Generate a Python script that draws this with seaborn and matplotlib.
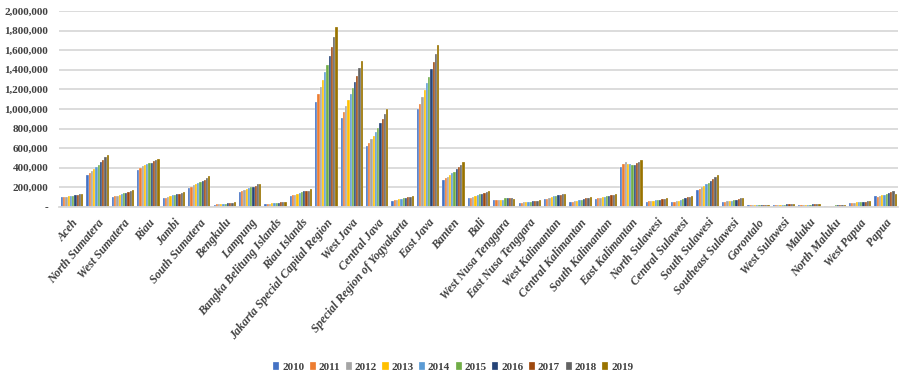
import pandas as pd
import seaborn as sns
import matplotlib.pyplot as plt
from matplotlib.ticker import FuncFormatter

# provinces and yearly values
provinces = ["Aceh", "North Sumatera", "West Sumatera", "Riau", "Jambi", "South Sumatera",
             "Bengkulu", "Lampung", "Bangka Belitung Islands", "Riau Islands",
             "Jakarta Special Capital Region", "West Java", "Central Java",
             "Special Region of Yogyakarta", "East Java", "Banten", "Bali",
             "West Nusa Tenggara", "East Nusa Tenggara", "West Kalimantan",
             "Central Kalimantan", "South Kalimantan", "East Kalimantan", "North Sulawesi",
             "Central Sulawesi", "South Sulawesi", "Southeast Sulawesi", "Gorontalo",
             "West Sulawesi", "Maluku", "North Maluku", "West Papua", "Papua"]
years = ["2010", "2011", "2012", "2013", "2014", "2015", "2016", "2017", "2018", "2019"]

# values in thousands
aceh = [98, 101, 105, 108, 110, 111, 118, 121, 128, 135]
north_sumatera = [324, 347, 368, 388, 408, 432, 459, 482, 506, 533]
west_sumatera = [101, 108, 115, 125, 132, 138, 145, 152, 162, 169]
riau = [381, 401, 418, 432, 438, 445, 452, 465, 476, 489]
jambi = [88, 94, 101, 111, 118, 125, 128, 135, 142, 148]
south_sumatera = [192, 202, 219, 236, 246, 256, 263, 273, 293, 314]
bengkulu = [24, 27, 28, 30, 32, 35, 38, 40, 44, 47]
lampung = [148, 162, 169, 179, 192, 199, 202, 216, 229, 239]
bangka = [27, 32, 34, 36, 40, 44, 45, 47, 52, 55]
riau_islands = [111, 118, 125, 132, 145, 152, 159, 160, 162, 179]
jakarta = [1073, 1148, 1226, 1297, 1375, 1453, 1545, 1637, 1739, 1837]
west_java = [907, 964, 1032, 1093, 1148, 1209, 1277, 1341, 1419, 1494]
central_java = [625, 655, 693, 727, 764, 808, 852, 893, 947, 995]
yogyakarta = [65, 71, 75, 80, 85, 90, 95, 99, 102, 109]
east_java = [995, 1053, 1124, 1195, 1260, 1331, 1406, 1484, 1562, 1650]
banten = [272, 292, 306, 326, 346, 360, 387, 408, 431, 455]
bali = [88, 95, 102, 110, 119, 128, 136, 146, 156, 163]
west_nusa = [68, 68, 68, 70, 74, 88, 88, 88, 88, 86]
east_nusa = [42, 45, 48, 50, 52, 55, 58, 61, 64, 68]
west_kalimantan = [78, 85, 95, 102, 109, 112, 122, 126, 129, 132]
central_kalimantan = [51, 55, 60, 65, 70, 75, 80, 88, 94, 99]
south_kalimantan = [80, 87, 92, 98, 105, 112, 116, 122, 126, 130]
east_kalimantan = [411, 438, 459, 435, 438, 432, 432, 445, 462, 482]
north_sulawesi = [54, 57, 60, 64, 67, 70, 74, 78, 82, 88]
central_sulawesi = [54, 55, 61, 64, 71, 84, 91, 98, 105, 111]
south_sulawesi = [169, 182, 199, 216, 233, 246, 266, 283, 307, 327]
southeast_sulawesi = [47, 50, 57, 60, 64, 71, 74, 81, 88, 89]
gorontalo = [16, 17, 17, 18, 18, 20, 22, 23, 23, 23]
west_sulawesi = [15, 16, 17, 19, 21, 24, 26, 27, 29, 30]
maluku = [18, 18, 19, 20, 22, 24, 25, 25, 26, 28]
north_maluku = [10, 11, 12, 13, 14, 15, 17, 19, 20, 22]
west_papua = [40, 42, 44, 46, 48, 50, 52, 54, 56, 58]
papua = [111, 105, 115, 118, 121, 128, 142, 148, 159, 128]

series = [aceh, north_sumatera, west_sumatera, riau, jambi, south_sumatera, bengkulu,
          lampung, bangka, riau_islands, jakarta, west_java, central_java, yogyakarta,
          east_java, banten, bali, west_nusa, east_nusa, west_kalimantan,
          central_kalimantan, south_kalimantan, east_kalimantan, north_sulawesi,
          central_sulawesi, south_sulawesi, southeast_sulawesi, gorontalo, west_sulawesi,
          maluku, north_maluku, west_papua, papua]

colors = ["#4472C4", "#ED7D31", "#A5A5A5", "#FFC000", "#5B9BD5",
          "#70AD47", "#264478", "#9E480E", "#636363", "#997300"]


def main():
    rows = []
    for prov, vals in zip(provinces, series):
        for yr, v in zip(years, vals):
            rows.append({"province": prov, "year": yr, "value": v * 1000})
    df = pd.DataFrame(rows)

    plt.rcParams['font.family'] = ['Liberation Serif', 'DejaVu Serif']
    fig = plt.figure(figsize=(9.01, 3.79), dpi=100)
    ax = fig.add_axes([0.066, 0.454, 0.931, 0.517])

    sns.barplot(data=df, x="province", y="value", hue="year", order=provinces,
                hue_order=years, palette=colors, saturation=1, width=0.88, ax=ax,
                edgecolor="white", linewidth=0.2)

    ax.set_ylim(0, 2000000)
    ax.set_yticks(range(0, 2000001, 200000))
    ax.yaxis.set_major_formatter(FuncFormatter(lambda v, p: "-" if v == 0 else f"{int(v):,}"))
    ax.grid(axis="y", color="#D9D9D9", linewidth=1.3)
    ax.set_axisbelow(True)
    for s in ["top", "right", "left"]:
        ax.spines[s].set_visible(False)
    ax.spines["bottom"].set_color("#D9D9D9")
    ax.spines["bottom"].set_linewidth(1.3)
    ax.tick_params(axis="both", length=0, colors="#404040")
    ax.tick_params(axis="y", pad=8)
    ax.tick_params(axis="x", pad=7)
    ax.set_xlim(-0.5, len(provinces) - 0.5)
    ax.set_xlabel("")
    ax.set_ylabel("")

    for lab in ax.get_yticklabels():
        lab.set_fontsize(8)
        lab.set_fontweight("bold")
        lab.set_color("#404040")
    ax.set_xticks(range(len(provinces)))
    ax.set_xticklabels(provinces, rotation=50, ha="right", rotation_mode="anchor",
                       fontsize=8.6, fontweight="bold", fontstyle="italic", color="#404040")
    for lab in ax.get_xticklabels():
        lab.set_x(lab.get_position()[0])

    ax.legend(loc="center", bbox_to_anchor=(0.503, 0.032), bbox_transform=fig.transFigure,
              ncol=10, frameon=False, prop={"size": 8, "weight": "bold"},
              handlelength=0.55, handleheight=0.8, handletextpad=0.25, columnspacing=0.5,
              labelcolor="#404040")

    fig.savefig("out.png", dpi=100)


if __name__ == "__main__":
    main()
